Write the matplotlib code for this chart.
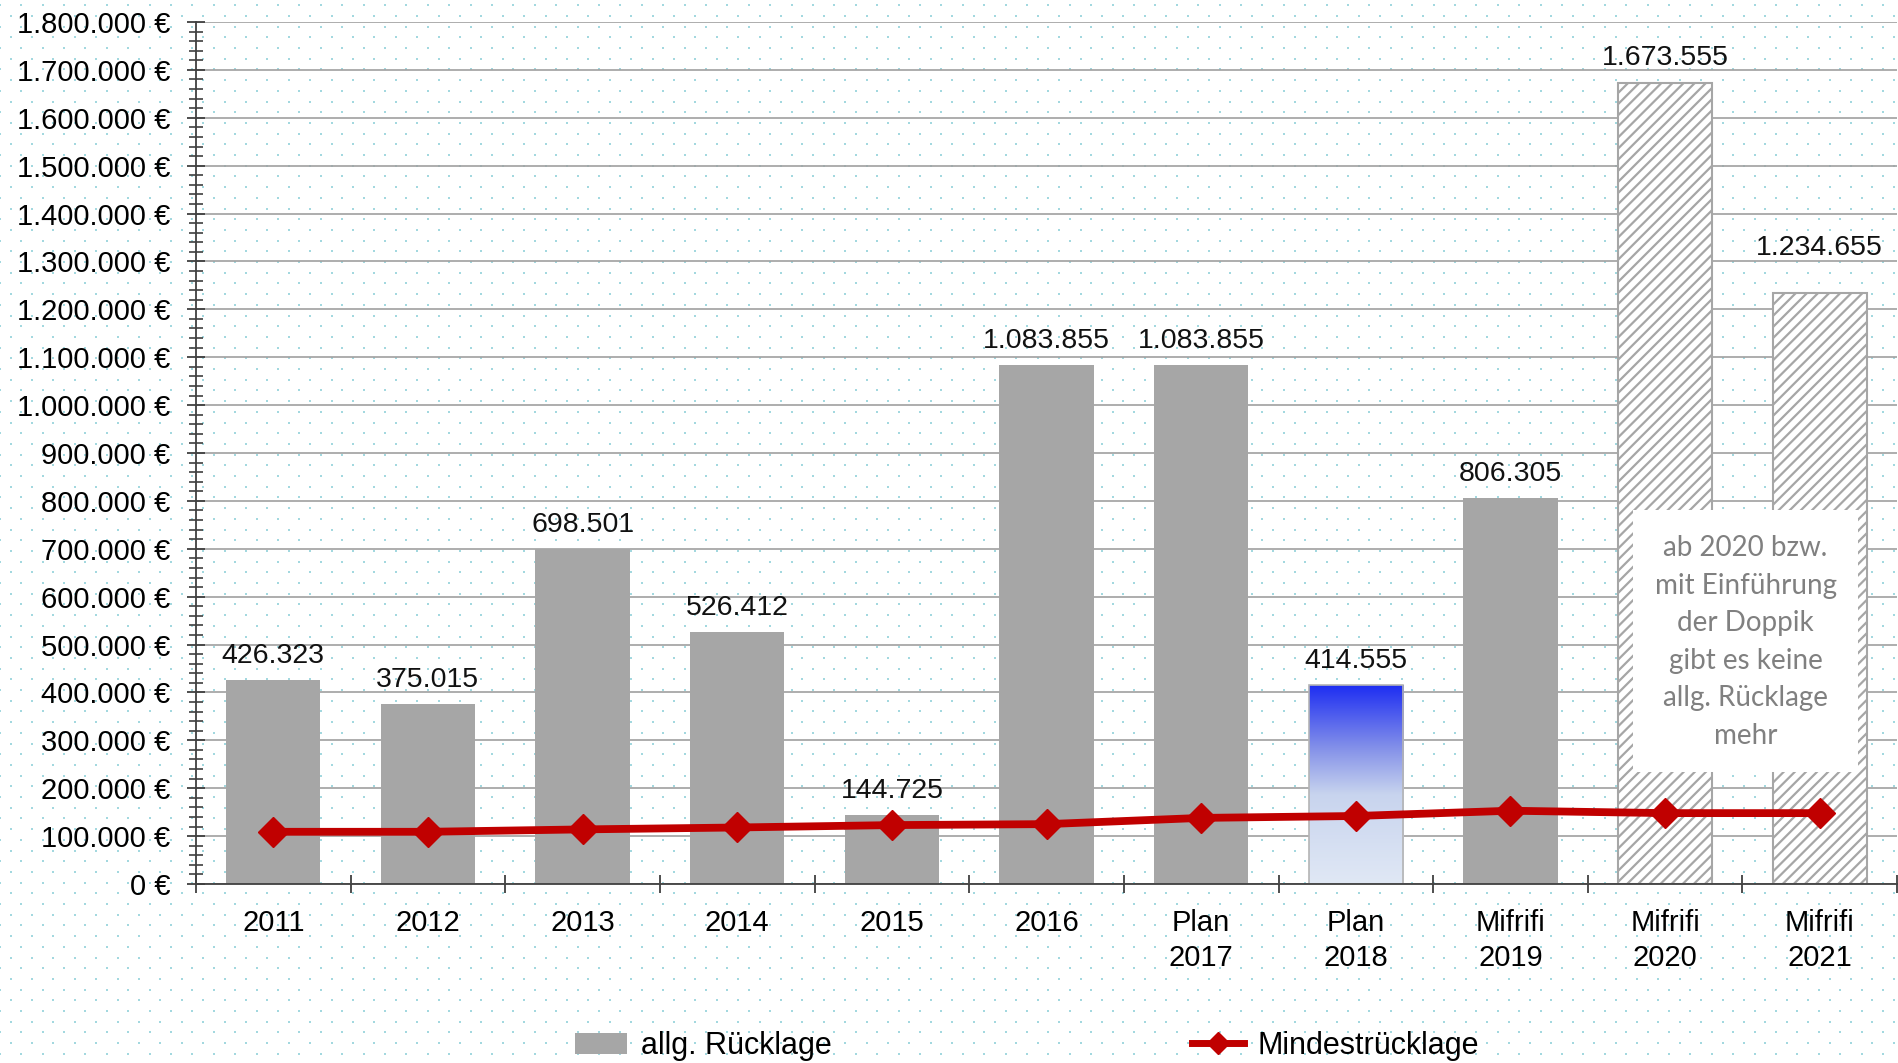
import numpy as np
import matplotlib.pyplot as plt
from matplotlib.patches import Rectangle, Patch
from matplotlib.lines import Line2D
from matplotlib.colors import LinearSegmentedColormap
from matplotlib.ticker import MultipleLocator

plt.rcParams['font.family'] = ['Liberation Sans', 'DejaVu Sans']
plt.rcParams['hatch.linewidth'] = 1.6

# Daten
kategorien = ['2011', '2012', '2013', '2014', '2015', '2016', 'Plan\n2017',
              'Plan\n2018', 'Mifrifi\n2019', 'Mifrifi\n2020', 'Mifrifi\n2021']
ruecklage = [426323, 375015, 698501, 526412, 144725, 1083855, 1083855,
             414555, 806305, 1673555, 1234655]
mindest = [109000, 109000, 114000, 118000, 123000, 125000, 138000,
           142000, 153000, 148000, 148000]
y_ticks = list(range(0, 1800001, 100000))
hinweis = 'ab 2020 bzw.\nmit Einführung\nder Doppik\ngibt es keine\nallg. Rücklage\nmehr'


def fmt(v):
    return f'{v:,}'.replace(',', '.')


fig = plt.figure(figsize=(18.99, 10.63), dpi=100)

# gepunkteter Hintergrund
bg = fig.add_axes([0, 0, 1, 1], zorder=0)
bg.set_xlim(0, 1899)
bg.set_ylim(1063, 0)
bg.axis('off')
px, py = [], []
k = 0
for yy in np.arange(904 - 10.7 * 90, 1070, 10.7):
    off = 21.3 if k % 2 == 0 else 10.7
    for xx in np.arange(off - 21.4 * 2, 1905, 21.4):
        px.append(xx)
        py.append(yy)
    k += 1
bg.scatter(px, py, s=2.5, marker='s', color='#A3D8DF', linewidths=0)

ax = fig.add_axes([0.1032, 0.1684, 0.8958, 0.8109], zorder=1)
ax.patch.set_alpha(0)

x = np.arange(len(kategorien))
bars = ax.bar(x, ruecklage, width=0.61, color='#A6A6A6', zorder=2)

# Plan 2018 mit Farbverlauf
b = bars[7]
b.set_facecolor('none')
b.set_edgecolor('#B4B4B4')
b.set_linewidth(1.2)
cmap = LinearSegmentedColormap.from_list(
    'verlauf', [(0, '#E0E8F5'), (0.45, '#C8D4EE'), (0.68, '#8592E9'), (1, '#1E2EF2')])
grad = np.linspace(0, 1, 256).reshape(-1, 1)
im = ax.imshow(grad, extent=(b.get_x(), b.get_x() + b.get_width(), 0, b.get_height()),
               origin='lower', aspect='auto', cmap=cmap, zorder=1.9)
im.set_clip_path(b)

# Mifrifi 2020/2021 schraffiert
for i in (9, 10):
    bars[i].set_facecolor('white')
    bars[i].set_edgecolor('#A6A6A6')
    bars[i].set_hatch('///')
    bars[i].set_linewidth(1.5)

ax.plot(x, mindest, color='#C00000', lw=5.6, marker='D', ms=15, zorder=4)

for i, v in enumerate(ruecklage):
    dy = 23 if i == 10 else 8
    ax.annotate(fmt(v), (i, v), xytext=(0, dy), textcoords='offset points',
                ha='center', va='bottom', fontsize=20.5, color='#111111', zorder=5)

# Hinweisbox
ax.add_patch(Rectangle((8.79, 234000), 1.46, 547000, facecolor='white',
                       edgecolor='none', zorder=3))
ax.text(9.52, 505000, hinweis, ha='center', va='center', multialignment='center',
        fontsize=20, family=['Lato', 'DejaVu Sans'], color='#808080',
        linespacing=1.55, zorder=3.5)

ax.set_xlim(-0.5, 10.5)
ax.set_ylim(0, 1800000)
ax.set_yticks(y_ticks)
ax.set_yticklabels([fmt(v) + ' €' for v in y_ticks])
ax.yaxis.set_minor_locator(MultipleLocator(20000))
ax.set_xticks(x)
ax.set_xticklabels(kategorien)
ax.set_xticks(np.arange(-0.5, 11, 1), minor=True)
for lab in ax.get_xticklabels():
    lab.set_linespacing(1.3)

ax.tick_params(axis='y', which='major', direction='inout', length=13, width=1.3,
               color='#404040', labelsize=21, pad=12)
ax.tick_params(axis='y', which='minor', direction='inout', length=9.5, width=1.2,
               color='#404040')
ax.tick_params(axis='x', which='major', length=0, labelsize=21, pad=18)
ax.tick_params(axis='x', which='minor', direction='inout', length=13.5, width=1.3,
               color='#404040')

for s in ('top', 'right'):
    ax.spines[s].set_visible(False)
for s in ('left', 'bottom'):
    ax.spines[s].set_color('#404040')
    ax.spines[s].set_linewidth(1.3)

ax.yaxis.grid(True, color='#A0A0A0', lw=1.2)
ax.set_axisbelow(True)

handles = [Patch(facecolor='#A6A6A6'),
           Line2D([], [], color='#C00000', lw=5, marker='D', ms=11)]
fig.legend(handles, ['allg. Rücklage', 'Mindestrücklage'], loc='center',
           bbox_to_anchor=(0.541, 0.016), ncol=2, frameon=False, fontsize=22,
           columnspacing=11.8, handlelength=1.7, handletextpad=0.45)

fig.savefig('out.png', dpi=100)
